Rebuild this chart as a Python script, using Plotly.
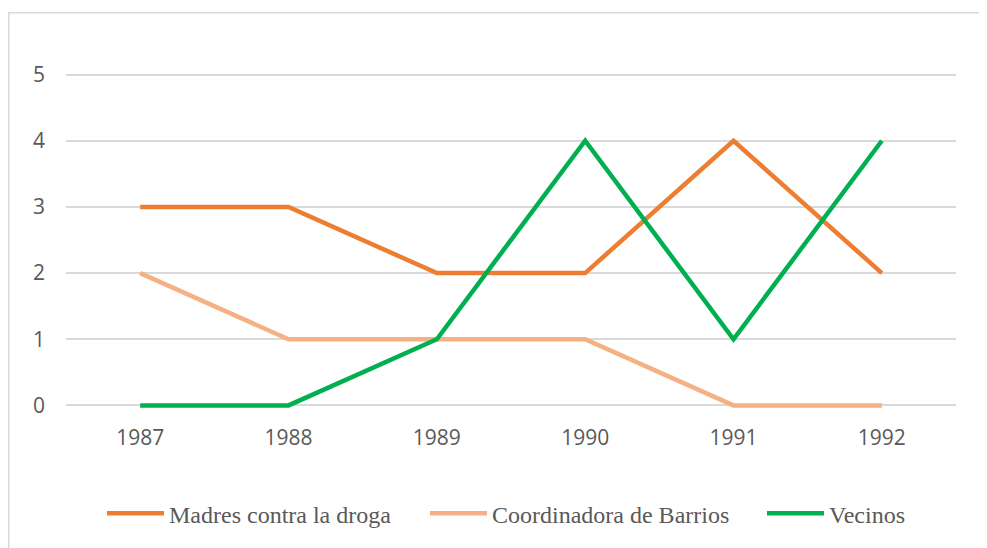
import plotly.graph_objects as go

years = ["1987", "1988", "1989", "1990", "1991", "1992"]
madres = [3, 3, 2, 2, 4, 2]
coordinadora = [2, 1, 1, 1, 0, 0]
vecinos = [0, 0, 1, 4, 1, 4]
y_ticks = [0, 1, 2, 3, 4, 5]

series = [
    ("Madres contra la droga", madres, "#ED7D31"),
    ("Coordinadora de Barrios", coordinadora, "#F4B183"),
    ("Vecinos", vecinos, "#00B050"),
]

# the page body adds an 8px margin; lay out in figure pixels
OFF = 8
W, H = 987 - OFF, 548 - OFF
L = 66 - OFF
R = W - (956 - OFF)
y_lo, y_hi = -0.1, 5.1
y5_px, y0_px = 75 - OFF, 408 - OFF
px_per_unit = (y0_px - y5_px) / 5.0
T = y5_px - (y_hi - 5) * px_per_unit
B = H - (y0_px + (0 - y_lo) * px_per_unit)
plot_w = W - L - R
plot_h = H - T - B


def px_to_paper_x(px):
    return (px - L) / plot_w


def px_to_paper_y(py):
    return (H - B - py) / plot_h


legend_names = ["legend", "legend2", "legend3"]
legend_x_px = [108 - OFF, 431 - OFF, 768 - OFF]

fig = go.Figure()
for (name, vals, col), lg in zip(series, legend_names):
    fig.add_trace(go.Scatter(
        x=years, y=vals, name=name, mode="lines",
        line=dict(color=col, width=4.5), legend=lg,
    ))

fig.add_shape(type="rect", xref="paper", yref="paper",
              x0=px_to_paper_x(0.75), x1=px_to_paper_x(W + 20),
              y0=px_to_paper_y(H + 20), y1=px_to_paper_y(4.75),
              line=dict(color="#D9D9D9", width=1.5), fillcolor="rgba(0,0,0,0)",
              layer="below")

legend_common = dict(
    orientation="h", yanchor="middle", y=px_to_paper_y(517 - OFF),
    xanchor="left",
    font=dict(family="Liberation Serif", size=24, color="#595959"),
    itemwidth=57, bgcolor="rgba(0,0,0,0)", borderwidth=0,
)

layout_legends = {}
for lg, xp in zip(legend_names, legend_x_px):
    d = dict(legend_common)
    d["x"] = px_to_paper_x(xp - 6)
    layout_legends[lg] = d

fig.update_layout(
    width=W, height=H,
    margin=dict(l=L, r=R, t=T, b=B, pad=0),
    paper_bgcolor="white", plot_bgcolor="white",
    showlegend=True,
    xaxis=dict(
        type="category", range=[-0.5, 5.5], showgrid=False, zeroline=False,
        showline=False, ticks="",
        tickfont=dict(family="Open Sans", size=21, color="#595959"),
        ticklabelstandoff=11,
    ),
    yaxis=dict(
        range=[y_lo, y_hi], tickvals=y_ticks, ticktext=[str(v) for v in y_ticks],
        showgrid=True, gridcolor="#D9D9D9", gridwidth=1.5, zeroline=False,
        showline=False, ticks="",
        tickfont=dict(family="Open Sans", size=21, color="#595959"),
        ticklabelstandoff=20,
    ),
    **layout_legends,
)

fig.write_html("out.html")
